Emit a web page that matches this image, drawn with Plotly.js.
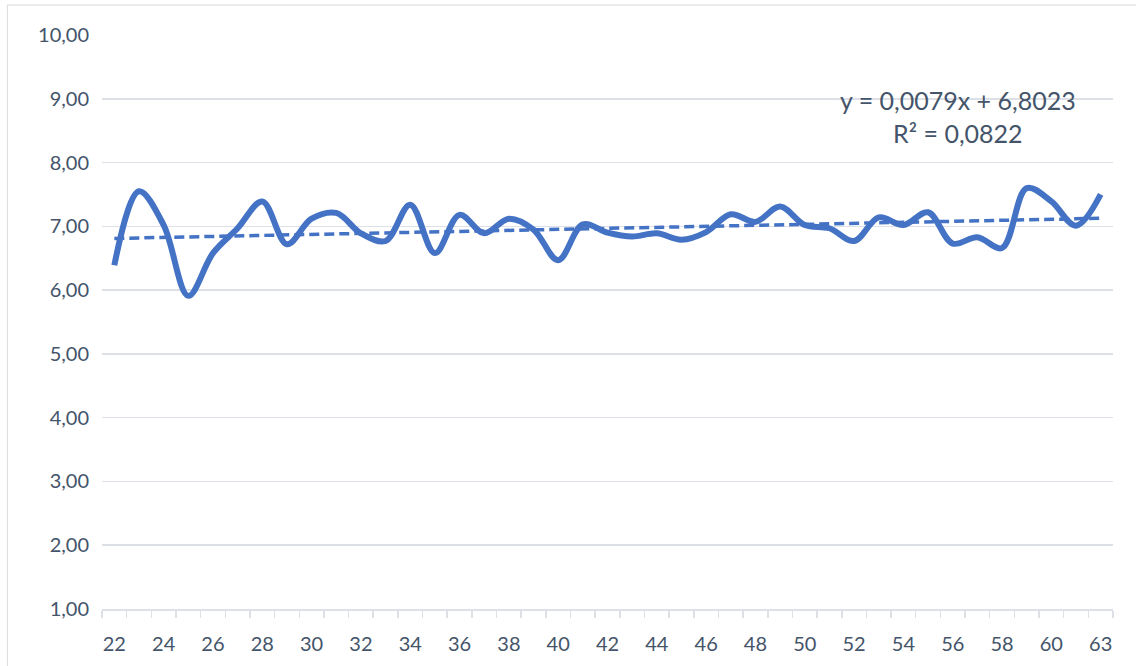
<!DOCTYPE html>
<html>
<head>
<meta charset="utf-8">
<script src="https://cdn.plot.ly/plotly-3.0.1.min.js"></script>
<style>
  html, body { margin: 0; padding: 0; background: #ffffff; }
  #chart { width: 1136px; height: 666px; }
</style>
</head>
<body>
<div id="chart"></div>
<script>
// Age categories (62 is absent in the source)
const categories = ['22','23','24','25','26','27','28','29','30','31',
                    '32','33','34','35','36','37','38','39','40','41',
                    '42','43','44','45','46','47','48','49','50','51',
                    '52','53','54','55','56','57','58','59','60','61','63'];
// Mean score per age
const values = [6.39, 7.55, 7.02, 5.91, 6.58, 6.97, 7.39, 6.72, 7.12, 7.21,
                6.89, 6.77, 7.34, 6.58, 7.18, 6.89, 7.12, 6.95, 6.47, 7.03,
                6.90, 6.84, 6.89, 6.79, 6.91, 7.19, 7.07, 7.31, 7.02, 6.97,
                6.77, 7.14, 7.02, 7.22, 6.73, 6.83, 6.66, 7.60, 7.39, 7.01, 7.50];
// Linear trendline shown in the chart: y = slope * x + intercept (x = category order, 1-based)
const trendCoefficients = [0.0079, 6.8023];
const trendLabel = ['y = 0,0079x + 6,8023', 'R² = 0,0822'];
const yTicks = [1, 2, 3, 4, 5, 6, 7, 8, 9, 10];

const xIdx = categories.map((c, i) => i);
const trendX = [0, categories.length - 1];
const trendY = trendX.map(i => trendCoefficients[0] * (i + 1) + trendCoefficients[1]);

const labelIdx = xIdx.filter(i => i % 2 === 0);
const textColor = '#44546a';
const gridColor = '#dde1e7';
const blue = '#4472c4';

const data = [
  {
    x: xIdx, y: values, type: 'scatter', mode: 'lines',
    line: { color: blue, width: 6, shape: 'spline', smoothing: 1 },
    hoverinfo: 'y'
  },
  {
    x: trendX, y: trendY, type: 'scatter', mode: 'lines',
    line: { color: blue, width: 3.5, dash: '10px,5px' },
    hoverinfo: 'skip'
  }
];

const layout = {
  width: 1136, height: 666,
  margin: { l: 102, r: 23, t: 35, b: 57 },
  paper_bgcolor: '#ffffff', plot_bgcolor: '#ffffff',
  showlegend: false,
  separators: ',.',
  font: { family: 'Lato, "Open Sans", sans-serif', color: textColor, size: 20 },
  xaxis: {
    range: [-0.5, categories.length - 0.5],
    tickvals: labelIdx,
    ticktext: labelIdx.map(i => categories[i]),
    ticks: '', ticklen: 0,
    showgrid: false, zeroline: false,
    showline: true, linecolor: gridColor, linewidth: 1.5,
    ticklabelstandoff: 16,
    tickfont: { size: 20, color: textColor },
    minor: { tick0: -0.5, dtick: 1, ticks: 'outside', ticklen: 7, tickcolor: gridColor, tickwidth: 1.5, showgrid: false }
  },
  yaxis: {
    range: [1, 10],
    tickvals: yTicks,
    tickformat: '.2f',
    ticks: '', showline: false, zeroline: false,
    showgrid: true, gridcolor: gridColor, gridwidth: 1.5,
    ticklabelstandoff: 12,
    tickfont: { size: 20, color: textColor }
  },
  annotations: [{
    xref: 'x', yref: 'y', x: 34.2, y: 8.73,
    text: trendLabel.join('<br>'),
    showarrow: false, align: 'center',
    font: { size: 25, color: textColor, family: 'Lato, "Open Sans", sans-serif' }
  }],
  shapes: [{
    type: 'rect', xref: 'paper', yref: 'paper',
    x0: -0.0936, x1: 1.05, y0: -0.3, y1: 1.0523,
    line: { color: '#d9d9d9', width: 1 }, fillcolor: 'rgba(0,0,0,0)', layer: 'below'
  }]
};

Plotly.newPlot('chart', data, layout, { displayModeBar: false, staticPlot: true });
</script>
</body>
</html>
